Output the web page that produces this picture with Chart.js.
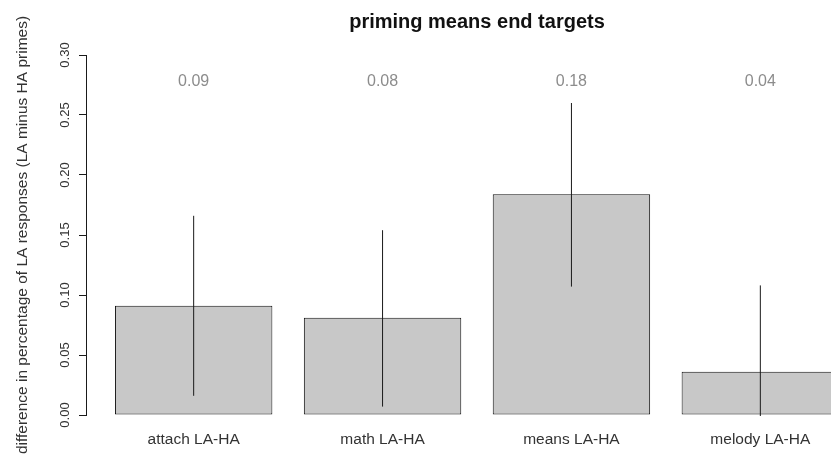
<!DOCTYPE html>
<html>
<head>
<meta charset="utf-8">
<script src="https://cdn.jsdelivr.net/npm/chart.js@4/dist/chart.umd.min.js"></script>
<style>
  html, body { margin: 0; padding: 0; background: #fff; overflow: hidden; }
  #wrap { width: 831px; height: 455px; overflow: hidden; }
  canvas { display: block; }
</style>
</head>
<body>
<div id="wrap"><canvas id="c" width="958" height="455" style="width:958px;height:455px"></canvas></div>
<script>
// Mean difference (LA minus HA) per prime type, with interval bounds
const categories = ["attach LA-HA", "math LA-HA", "means LA-HA", "melody LA-HA"];
const meanDiff   = [0.091, 0.081, 0.184, 0.036];
const ciLow      = [0.016, 0.007, 0.107, -0.038];
const ciHigh     = [0.166, 0.154, 0.260, 0.108];
const yTicks     = [0.00, 0.05, 0.10, 0.15, 0.20, 0.25, 0.30];

// barplot-style geometry: bars of width 1 separated by 0.2
const BAR_W = 1, SPACE = 0.2;
const centers = categories.map((_, i) => SPACE + i * (BAR_W + SPACE) + BAR_W / 2);
const span = categories.length * (BAR_W + SPACE) - SPACE;
const xMin = SPACE - 0.04 * span;
const xMax = SPACE + span + 0.04 * span;
const LABEL_ROW = 0.278;

const FONT = "'Liberation Sans', Arial, Helvetica, sans-serif";

const overlay = {
  id: 'overlay',
  afterDatasetsDraw(chart) {
    const { ctx, chartArea, scales } = chart;
    const meta = chart.getDatasetMeta(0);
    const y = scales.y;
    // interval lines
    ctx.save();
    ctx.beginPath();
    ctx.rect(chartArea.left, chartArea.top, chartArea.right - chartArea.left, chartArea.bottom - chartArea.top + 1);
    ctx.clip();
    ctx.strokeStyle = '#1a1a1a';
    ctx.lineWidth = 1;
    meta.data.forEach((bar, i) => {
      ctx.beginPath();
      ctx.moveTo(bar.x, y.getPixelForValue(ciLow[i]));
      ctx.lineTo(bar.x, y.getPixelForValue(ciHigh[i]));
      ctx.stroke();
    });
    ctx.restore();
    // value labels
    ctx.save();
    ctx.fillStyle = '#8c8c8c';
    ctx.font = '16px ' + FONT;
    ctx.textAlign = 'center';
    ctx.textBaseline = 'middle';
    meta.data.forEach((bar, i) => {
      ctx.fillText(meanDiff[i].toFixed(2), bar.x, y.getPixelForValue(LABEL_ROW));
    });
    ctx.restore();
    // rotated y tick labels
    ctx.save();
    ctx.fillStyle = '#333';
    ctx.font = '13px ' + FONT;
    ctx.textAlign = 'center';
    ctx.textBaseline = 'middle';
    y.ticks.forEach(t => {
      const py = y.getPixelForValue(t.value);
      ctx.save();
      ctx.translate(65, py);
      ctx.rotate(-Math.PI / 2);
      ctx.fillText(t.value.toFixed(2), 0, 0);
      ctx.restore();
    });
    ctx.restore();
  }
};

new Chart(document.getElementById('c'), {
  type: 'bar',
  data: {
    datasets: [{
      data: meanDiff.map((v, i) => ({ x: centers[i], y: v })),
      backgroundColor: '#c8c8c8',
      borderColor: '#111',
      borderWidth: 1,
      borderSkipped: false,
      categoryPercentage: 1,
      barPercentage: BAR_W / (BAR_W + SPACE)
    }]
  },
  options: {
    responsive: false,
    animation: false,
    layout: { padding: { left: 0, right: 90, top: 0, bottom: 0 } },
    plugins: {
      legend: { display: false },
      tooltip: { enabled: false },
      title: {
        display: true,
        fullSize: false,
        text: 'priming means end targets',
        color: '#111',
        font: { family: FONT, size: 20, weight: 'bold' },
        padding: { top: 10, bottom: 21 }
      }
    },
    scales: {
      x: {
        type: 'linear',
        offset: false,
        min: xMin,
        max: xMax,
        afterBuildTicks(scale) { scale.ticks = centers.map(v => ({ value: v })); },
        afterFit(scale) { scale.height = 40; },
        grid: { display: false, offset: false },
        border: { display: false },
        ticks: {
          autoSkip: false,
          maxRotation: 0,
          padding: 7,
          color: '#333',
          font: { family: FONT, size: 15.5 },
          callback: (v, i) => categories[i]
        }
      },
      y: {
        min: 0,
        max: 0.3,
        afterBuildTicks(scale) { scale.ticks = yTicks.map(v => ({ value: v })); },
        afterFit(scale) { scale.width = 86; },
        grid: { drawOnChartArea: false, drawTicks: true, tickLength: 7, color: '#1a1a1a' },
        border: { display: true, color: '#1a1a1a', width: 1 },
        ticks: { display: false },
        title: {
          display: true,
          text: 'difference in percentage of LA responses (LA minus HA primes)',
          color: '#333',
          font: { family: FONT, size: 15.5 },
          padding: { top: 13, bottom: 0 }
        }
      }
    }
  },
  plugins: [overlay]
});
</script>
</body>
</html>
